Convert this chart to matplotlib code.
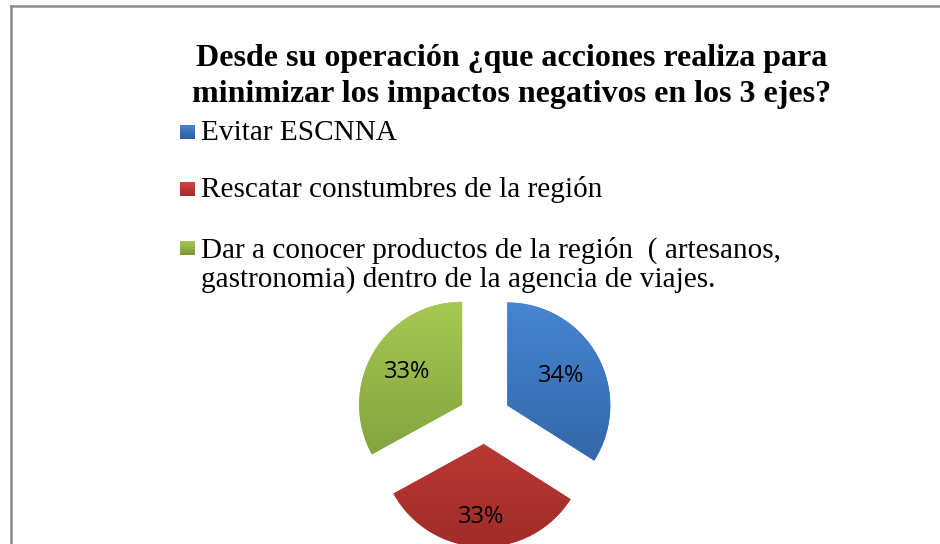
import matplotlib
matplotlib.use("Agg")
import matplotlib.pyplot as plt
import numpy as np
from matplotlib.colors import LinearSegmentedColormap
from matplotlib.lines import Line2D

# ---- data ----
title = "Desde su operación ¿que acciones realiza para\nminimizar los impactos negativos en los 3 ejes?"
categories = [
    "Evitar ESCNNA",
    "Rescatar constumbres de la región",
    "Dar a conocer productos de la región  ( artesanos,\ngastronomia) dentro de la agencia de viajes.",
]
values = [34, 33, 33]
top_colors = ["#4685D3", "#D4433F", "#A7C853"]
bottom_colors = ["#2D5E9B", "#A02C29", "#779639"]
base_colors = ["#4F81BD", "#C0504D", "#9BBB59"]
label_dist = [0.6, 0.71, 0.62]

W, H = 940, 544
fig = plt.figure(figsize=(W / 100, H / 100), dpi=100)
ax = fig.add_axes([0, 0, 1, 1])

def fy(y_img):
    return H - y_img

# pie
center = (484.5, fy(418))
radius = 103
wedges, texts, autotexts = ax.pie(
    values, colors=base_colors, explode=[26] * len(values), startangle=90,
    counterclock=False, radius=radius, center=center,
    autopct="%1.0f%%", pctdistance=0.6, frame=True,
    textprops=dict(family=["Open Sans", "DejaVu Sans"], fontsize=17, color="black"),
    wedgeprops=dict(linewidth=0),
)
ax.set_xlim(0, W)
ax.set_ylim(0, H)
ax.set_aspect("equal")
ax.axis("off")

# frame (top and left border)
ax.add_line(Line2D([11, W], [fy(6), fy(6)], color="#8C8C8C", lw=1.8))
ax.add_line(Line2D([11, 11], [fy(6), 0], color="#8C8C8C", lw=1.8))

# vertical gradient fill clipped to each wedge; place labels per wedge
for w, c1, c2, t, d in zip(wedges, top_colors, bottom_colors, autotexts, label_dist):
    cmap = LinearSegmentedColormap.from_list("g", [c2, c1])
    x0, y0 = w.center
    ext = [x0 - radius, x0 + radius, y0 - radius, y0 + radius]
    grad = np.linspace(0, 1, 256).reshape(-1, 1)
    im = ax.imshow(grad, cmap=cmap, extent=ext, origin="lower", aspect="auto",
                   zorder=w.get_zorder() + 0.1, interpolation="bilinear")
    im.set_clip_path(w)
    thm = np.deg2rad(0.5 * (w.theta1 + w.theta2))
    t.set_position((x0 + d * radius * np.cos(thm), y0 + d * radius * np.sin(thm)))
    t.set_zorder(5)
ax.set_xlim(0, W)
ax.set_ylim(0, H)

# title
fig.text(512 / W, fy(102) / H, title, ha="center", va="baseline",
         family="Liberation Serif", fontweight="bold", fontsize=23.0,
         linespacing=1.3)

# legend (manual)
baselines = [140, 197, 256]
sq = 15
for lab, yb, c1, c2 in zip(categories, baselines, top_colors, bottom_colors):
    cmap = LinearSegmentedColormap.from_list("g", [c2, c1])
    grad = np.linspace(0, 1, 64).reshape(-1, 1)
    ax.imshow(grad, cmap=cmap, extent=[180, 180 + sq, fy(yb) + 1, fy(yb) + 15],
              origin="lower", aspect="auto", zorder=4)
    nlines = lab.count("\n")
    ax.text(201, fy(yb) - 31 * nlines, lab, ha="left", va="baseline",
            family="Liberation Serif", fontsize=21.1, linespacing=1.1)
ax.set_xlim(0, W)
ax.set_ylim(0, H)

fig.savefig("out.png", dpi=100)
